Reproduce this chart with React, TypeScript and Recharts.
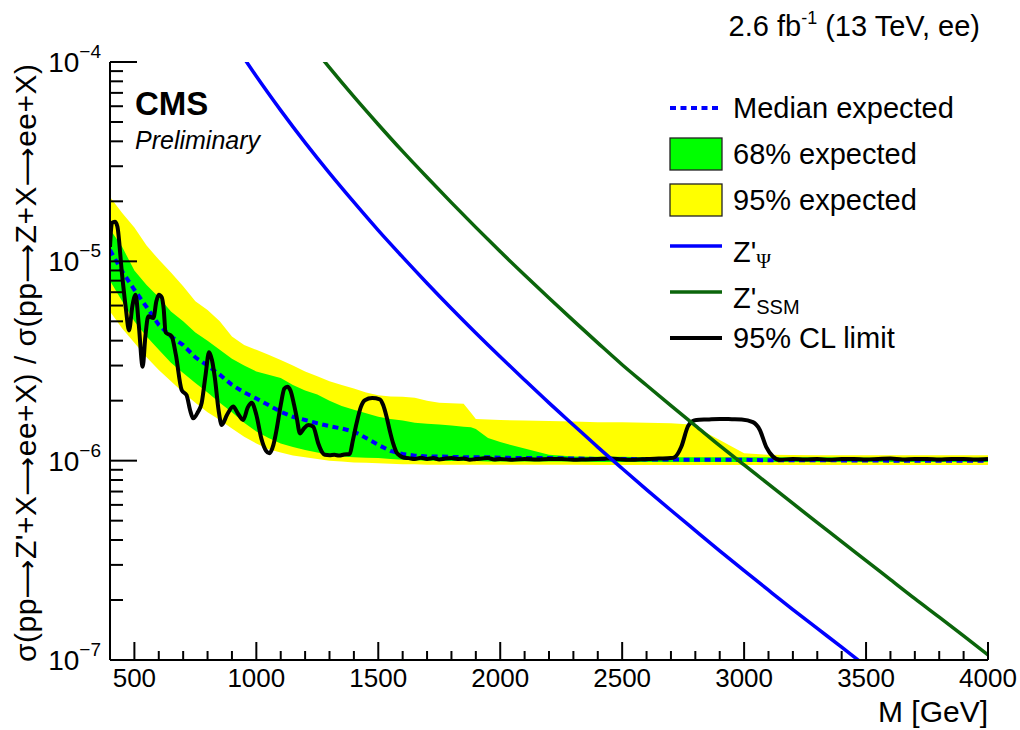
import React from "react";
import { Area, ComposedChart, Legend, Line, XAxis, YAxis } from "recharts";

const FONT = '"Liberation Sans", Arial, Helvetica, sans-serif';
const W = 1020;
const H = 730;

// expected limit bands (cross-section ratio)
const bandMass = [
  400, 450, 500, 550, 600, 650, 700, 750, 800, 850,
  900, 950, 1000, 1050, 1100, 1150, 1200, 1250, 1300, 1350,
  1400, 1450, 1500, 1550, 1600, 1650, 1700, 1750, 1800, 1850,
  1880, 1900, 1950, 2000, 2100, 2200, 2300, 2400, 2500, 2600,
  2700, 2780, 2900, 3000, 3100, 3300, 3600, 4000,
];
const band95Low = [
  5.6e-6, 4.6e-6, 3.9e-6, 3.3e-6, 2.85e-6, 2.5e-6, 2.2e-6, 1.95e-6, 1.75e-6, 1.6e-6,
  1.45e-6, 1.32e-6, 1.22e-6, 1.14e-6, 1.1e-6, 1.06e-6, 1.04e-6, 1.02e-6, 1.0e-6, 0.99e-6,
  0.98e-6, 0.975e-6, 0.97e-6, 0.965e-6, 0.96e-6, 0.96e-6, 0.955e-6, 0.955e-6, 0.955e-6, 0.955e-6,
  0.955e-6, 0.955e-6, 0.955e-6, 0.955e-6, 0.955e-6, 0.955e-6, 0.955e-6, 0.95e-6, 0.95e-6, 0.95e-6,
  0.95e-6, 0.95e-6, 0.95e-6, 0.95e-6, 0.95e-6, 0.95e-6, 0.95e-6, 0.95e-6,
];
const band68Low = [
  8.0e-6, 6.3e-6, 5.0e-6, 4.2e-6, 3.6e-6, 3.1e-6, 2.75e-6, 2.45e-6, 2.2e-6, 1.95e-6,
  1.75e-6, 1.55e-6, 1.4e-6, 1.3e-6, 1.22e-6, 1.17e-6, 1.13e-6, 1.1e-6, 1.07e-6, 1.05e-6,
  1.04e-6, 1.035e-6, 1.03e-6, 1.02e-6, 1.01e-6, 1.005e-6, 1.0e-6, 1.0e-6, 0.995e-6, 0.995e-6,
  0.995e-6, 0.995e-6, 0.99e-6, 0.99e-6, 0.99e-6, 0.99e-6, 0.99e-6, 0.985e-6, 0.985e-6, 0.985e-6,
  0.985e-6, 0.985e-6, 0.985e-6, 0.985e-6, 0.985e-6, 0.985e-6, 0.985e-6, 0.985e-6,
];
const medianExpected = [
  11.4e-6, 8.9e-6, 7.2e-6, 5.9e-6, 4.8e-6, 4.2e-6, 3.8e-6, 3.3e-6, 3.0e-6, 2.7e-6,
  2.4e-6, 2.2e-6, 2.05e-6, 1.9e-6, 1.76e-6, 1.66e-6, 1.6e-6, 1.54e-6, 1.49e-6, 1.45e-6,
  1.4e-6, 1.3e-6, 1.2e-6, 1.12e-6, 1.08e-6, 1.06e-6, 1.05e-6, 1.05e-6, 1.045e-6, 1.04e-6,
  1.04e-6, 1.04e-6, 1.04e-6, 1.035e-6, 1.03e-6, 1.03e-6, 1.025e-6, 1.02e-6, 1.02e-6, 1.015e-6,
  1.015e-6, 1.01e-6, 1.01e-6, 1.01e-6, 1.005e-6, 1.005e-6, 1.0e-6, 1.0e-6,
];
const band68High = [
  14.5e-6, 11.8e-6, 9.0e-6, 7.6e-6, 6.6e-6, 5.6e-6, 5.0e-6, 4.4e-6, 4.0e-6, 3.6e-6,
  3.25e-6, 3.0e-6, 2.8e-6, 2.7e-6, 2.6e-6, 2.4e-6, 2.25e-6, 2.15e-6, 2.0e-6, 1.88e-6,
  1.8e-6, 1.73e-6, 1.66e-6, 1.62e-6, 1.59e-6, 1.55e-6, 1.53e-6, 1.52e-6, 1.5e-6, 1.48e-6,
  1.47e-6, 1.44e-6, 1.3e-6, 1.24e-6, 1.15e-6, 1.07e-6, 1.05e-6, 1.045e-6, 1.045e-6, 1.04e-6,
  1.04e-6, 1.04e-6, 1.04e-6, 1.04e-6, 1.04e-6, 1.04e-6, 1.035e-6, 1.035e-6,
];
const band95High = [
  21.0e-6, 17.5e-6, 14.8e-6, 12.0e-6, 10.2e-6, 8.8e-6, 7.5e-6, 6.3e-6, 5.7e-6, 5.0e-6,
  4.2e-6, 3.8e-6, 3.6e-6, 3.4e-6, 3.2e-6, 3.0e-6, 2.8e-6, 2.65e-6, 2.5e-6, 2.4e-6,
  2.3e-6, 2.2e-6, 2.13e-6, 2.1e-6, 2.09e-6, 2.07e-6, 2.0e-6, 1.95e-6, 1.94e-6, 1.93e-6,
  1.74e-6, 1.62e-6, 1.61e-6, 1.6e-6, 1.59e-6, 1.58e-6, 1.57e-6, 1.56e-6, 1.56e-6, 1.55e-6,
  1.54e-6, 1.52e-6, 1.27e-6, 1.09e-6, 1.07e-6, 1.065e-6, 1.065e-6, 1.065e-6,
];

// observed 95% CL limit
const obsMass = [
  400, 408, 420, 430, 449, 465, 478, 492, 505, 518,
  534, 545, 557, 578, 590, 600, 612, 620, 628, 653,
  670, 694, 714, 728, 741, 760, 776, 792, 806, 818,
  830, 845, 858, 880, 905, 925, 946, 965, 981, 1000,
  1020, 1040, 1053, 1070, 1083, 1100, 1115, 1127, 1140, 1155,
  1165, 1179, 1195, 1213, 1233, 1254, 1270, 1281, 1300, 1320,
  1340, 1360, 1383, 1395, 1411, 1428, 1445, 1475, 1506, 1520,
  1534, 1548, 1561, 1575, 1588, 1600, 1625, 1650, 1675, 1700,
  1725, 1750, 1775, 1800, 1825, 1850, 1875, 1900, 1925, 1950,
  1975, 2000, 2050, 2100, 2150, 2200, 2250, 2300, 2350, 2400,
  2450, 2500, 2550, 2600, 2650, 2700, 2715, 2742, 2770, 2790,
  2804, 2850, 2900, 2950, 2990, 3036, 3064, 3091, 3118, 3146,
  3200, 3250, 3300, 3350, 3400, 3450, 3500, 3550, 3600, 3650,
  3700, 3750, 3800, 3850, 3900, 3950, 4000,
];
const obsLimit = [
  11.8e-6, 15.6e-6, 15.8e-6, 15.0e-6, 8.7e-6, 5.8e-6, 4.5e-6, 6.0e-6, 6.8e-6, 4.8e-6,
  2.96e-6, 4.2e-6, 5.3e-6, 5.2e-6, 6.3e-6, 6.8e-6, 6.6e-6, 5.8e-6, 4.4e-6, 4.2e-6,
  3.4e-6, 2.26e-6, 2.13e-6, 1.8e-6, 1.63e-6, 1.75e-6, 1.95e-6, 2.7e-6, 3.5e-6, 3.2e-6,
  2.6e-6, 1.8e-6, 1.51e-6, 1.7e-6, 1.87e-6, 1.72e-6, 1.6e-6, 1.85e-6, 1.95e-6, 1.7e-6,
  1.3e-6, 1.12e-6, 1.09e-6, 1.2e-6, 1.43e-6, 1.9e-6, 2.3e-6, 2.35e-6, 2.25e-6, 1.9e-6,
  1.66e-6, 1.37e-6, 1.45e-6, 1.51e-6, 1.48e-6, 1.22e-6, 1.1e-6, 1.07e-6, 1.065e-6, 1.07e-6,
  1.06e-6, 1.075e-6, 1.08e-6, 1.25e-6, 1.54e-6, 1.85e-6, 2.01e-6, 2.06e-6, 2.03e-6, 1.9e-6,
  1.66e-6, 1.4e-6, 1.22e-6, 1.1e-6, 1.06e-6, 1.04e-6, 1.03e-6, 1.02e-6, 1.035e-6, 1.02e-6,
  1.03e-6, 1.015e-6, 1.025e-6, 1.03e-6, 1.02e-6, 1.025e-6, 1.01e-6, 1.02e-6, 1.025e-6, 1.03e-6,
  1.015e-6, 1.02e-6, 1.01e-6, 1.02e-6, 1.015e-6, 1.02e-6, 1.02e-6, 1.01e-6, 1.015e-6, 1.02e-6,
  1.025e-6, 1.015e-6, 1.01e-6, 1.02e-6, 1.025e-6, 1.03e-6, 1.04e-6, 1.17e-6, 1.49e-6, 1.58e-6,
  1.6e-6, 1.61e-6, 1.62e-6, 1.615e-6, 1.61e-6, 1.56e-6, 1.43e-6, 1.17e-6, 1.05e-6, 1.01e-6,
  1.02e-6, 1.015e-6, 1.02e-6, 1.01e-6, 1.02e-6, 1.02e-6, 1.015e-6, 1.02e-6, 1.025e-6, 1.015e-6,
  1.02e-6, 1.02e-6, 1.015e-6, 1.02e-6, 1.02e-6, 1.015e-6, 1.02e-6,
];

// theory predictions
const psiMass = [900, 1000, 1100, 1200, 1300, 1400, 1500, 1600, 1700, 1800, 1900, 2000, 2100, 2200, 2300, 2400, 2500, 2600, 2700, 2800, 2900, 3000, 3100, 3200, 3300, 3400, 3500, 3600];
const psiXsec = [
  1.29e-4, 8.48e-5, 5.72e-5, 3.94e-5, 2.77e-5, 1.98e-5, 1.43e-5, 1.05e-5, 7.77e-6, 5.8e-6,
  4.37e-6, 3.32e-6, 2.54e-6, 1.95e-6, 1.51e-6, 1.17e-6, 9.14e-7, 7.16e-7, 5.64e-7, 4.46e-7,
  3.53e-7, 2.81e-7, 2.24e-7, 1.79e-7, 1.44e-7, 1.16e-7, 9.3e-8, 7.5e-8,
];
const ssmMass = [1200, 1300, 1400, 1500, 1600, 1700, 1800, 1900, 2000, 2100, 2200, 2300, 2400, 2500, 2600, 2700, 2800, 2900, 3000, 3100, 3200, 3300, 3400, 3500, 3600, 3700, 3800, 3900, 4000];
const ssmXsec = [
  1.33e-4, 9.37e-5, 6.7e-5, 4.86e-5, 3.56e-5, 2.64e-5, 1.97e-5, 1.48e-5, 1.12e-5, 8.54e-6,
  6.54e-6, 5.04e-6, 3.9e-6, 3.03e-6, 2.39e-6, 1.89e-6, 1.5e-6, 1.19e-6, 9.53e-7, 7.62e-7,
  6.1e-7, 4.89e-7, 3.93e-7, 3.15e-7, 2.53e-7, 2.03e-7, 1.64e-7, 1.32e-7, 1.06e-7,
];

// axes
const xMajorTicks = [500, 1000, 1500, 2000, 2500, 3000, 3500, 4000];
const xMinorTicks = [
  600, 700, 800, 900, 1100, 1200, 1300, 1400, 1600, 1700, 1800, 1900,
  2100, 2200, 2300, 2400, 2600, 2700, 2800, 2900, 3100, 3200, 3300, 3400,
  3600, 3700, 3800, 3900,
];
const yMajorTicks = [1e-7, 1e-6, 1e-5, 1e-4];
const yMajorExponents = ["\u22127", "\u22126", "\u22125", "\u22124"];
const yMinorTicks = [
  2e-7, 3e-7, 4e-7, 5e-7, 6e-7, 7e-7, 8e-7, 9e-7,
  2e-6, 3e-6, 4e-6, 5e-6, 6e-6, 7e-6, 8e-6, 9e-6,
  2e-5, 3e-5, 4e-5, 5e-5, 6e-5, 7e-5, 8e-5, 9e-5,
];
const xTicks = [...xMajorTicks, ...xMinorTicks].sort((a, b) => a - b);
const yTicks = [...yMajorTicks, ...yMinorTicks].sort((a, b) => a - b);

const bandData = bandMass.map((m, i) => ({
  m,
  band95: [band95Low[i], band95High[i]],
  band68: [band68Low[i], band68High[i]],
  median: medianExpected[i],
}));
const obsData = obsMass.map((m, i) => ({ m, limit: obsLimit[i] }));
const psiData = psiMass.map((m, i) => ({ m, xsec: psiXsec[i] }));
const ssmData = ssmMass.map((m, i) => ({ m, xsec: ssmXsec[i] }));

const C_BLUE = "#0000ff";
const C_DARKGREEN = "#0b650b";
const C_GREEN = "#00ff00";
const C_YELLOW = "#ffff00";

function BottomTick({ x, y, payload }: any) {
  const major = xMajorTicks.includes(payload.value);
  return (
    <g>
      <line x1={x} x2={x} y1={y} y2={y - (major ? 18 : 9)} stroke="#000" strokeWidth={2} />
      {major && (
        <text x={x} y={y + 27} textAnchor="middle" fontSize={26} fontFamily={FONT} fill="#000">
          {payload.value}
        </text>
      )}
    </g>
  );
}

function TopTick({ x, y, payload }: any) {
  const major = xMajorTicks.includes(payload.value);
  return <line x1={x} x2={x} y1={y} y2={y + (major ? 17 : 8)} stroke="#000" strokeWidth={2} />;
}

function LeftTick({ x, y, payload }: any) {
  const idx = yMajorTicks.indexOf(payload.value);
  const major = idx >= 0;
  return (
    <g>
      <line x1={x} x2={x + (major ? 27 : 13)} y1={y} y2={y} stroke="#000" strokeWidth={2} />
      {major && (
        <text x={x - 9} y={y + 10} textAnchor="end" fontSize={28} fontFamily={FONT} fill="#000">
          10
          <tspan fontSize={19} dy={-14}>{yMajorExponents[idx]}</tspan>
        </text>
      )}
    </g>
  );
}

function RightTick({ x, y, payload }: any) {
  const major = yMajorTicks.includes(payload.value);
  return <line x1={x} x2={x - (major ? 26 : 12)} y1={y} y2={y} stroke="#000" strokeWidth={2} />;
}

const legendItems = [
  { kind: "dash", color: C_BLUE, label: "Median expected" },
  { kind: "box", color: C_GREEN, label: "68% expected" },
  { kind: "box", color: C_YELLOW, label: "95% expected" },
  { kind: "line", color: C_BLUE, label: "Z'", sub: "\u03a8" },
  { kind: "line", color: C_DARKGREEN, label: "Z'", sub: "SSM" },
  { kind: "line", color: "#000", label: "95% CL limit" },
];

function LegendBox() {
  return (
    <svg width={330} height={280} style={{ display: "block", overflow: "visible" }} fontFamily={FONT}>
      {legendItems.map((it, i) => {
        const cy = 24 + i * 46;
        return (
          <g key={i}>
            {it.kind === "dash" && (
              <line x1={10} x2={62} y1={cy} y2={cy} stroke={it.color} strokeWidth={4} strokeDasharray="6 4.5" />
            )}
            {it.kind === "box" && (
              <rect x={10} y={cy - 16} width={52} height={32} fill={it.color} stroke="#222" strokeWidth={1.3} />
            )}
            {it.kind === "line" && (
              <line x1={10} x2={62} y1={cy} y2={cy} stroke={it.color} strokeWidth={it.color === "#000" ? 4 : 3.5} />
            )}
            {it.sub ? (
              <text x={73} y={cy + 16} fontSize={29} fill="#000">
                {it.label}
                <tspan fontSize={20} dy={6} fontFamily={it.sub === "\u03a8" ? '"Liberation Serif", serif' : FONT}>
                  {it.sub}
                </tspan>
              </text>
            ) : (
              <text x={73} y={cy + 10} fontSize={29} fill="#000">
                {it.label}
              </text>
            )}
          </g>
        );
      })}
    </svg>
  );
}

const ARROW_FONT = '"DejaVu Sans", sans-serif';

export default function App() {
  const axisLine = { stroke: "#000", strokeWidth: 2 };
  const arrow = (
    <tspan fontFamily={ARROW_FONT} fontSize={27}>
      {"\u27f6"}
    </tspan>
  );
  return (
    <div style={{ position: "absolute", left: 0, top: 0, width: W, height: H, background: "#fff" }}>
      <ComposedChart width={W} height={H} margin={{ top: 62, right: 32, bottom: 30, left: 50 }}>
        <Area
          xAxisId="bottom"
          yAxisId="left"
          data={bandData}
          dataKey="band95"
          type="linear"
          stroke="none"
          fill={C_YELLOW}
          fillOpacity={1}
          isAnimationActive={false}
        />
        <Area
          xAxisId="bottom"
          yAxisId="left"
          data={bandData}
          dataKey="band68"
          type="linear"
          stroke="none"
          fill={C_GREEN}
          fillOpacity={1}
          isAnimationActive={false}
        />
        <Line
          xAxisId="bottom"
          yAxisId="left"
          data={bandData}
          dataKey="median"
          type="linear"
          stroke={C_BLUE}
          strokeWidth={4}
          strokeDasharray="6 4.5"
          dot={false}
          isAnimationActive={false}
        />
        <Line
          xAxisId="bottom"
          yAxisId="left"
          data={obsData}
          dataKey="limit"
          type="monotone"
          stroke="#000"
          strokeWidth={4}
          dot={false}
          isAnimationActive={false}
        />
        <Line
          xAxisId="bottom"
          yAxisId="left"
          data={psiData}
          dataKey="xsec"
          type="monotone"
          stroke={C_BLUE}
          strokeWidth={3.5}
          dot={false}
          isAnimationActive={false}
        />
        <Line
          xAxisId="bottom"
          yAxisId="left"
          data={ssmData}
          dataKey="xsec"
          type="monotone"
          stroke={C_DARKGREEN}
          strokeWidth={3.5}
          dot={false}
          isAnimationActive={false}
        />
        <XAxis
          xAxisId="bottom"
          dataKey="m"
          type="number"
          domain={[400, 4000]}
          allowDataOverflow
          ticks={xTicks}
          interval={0}
          tickSize={0}
          tickMargin={0}
          tickLine={false}
          axisLine={axisLine}
          height={40}
          tick={(p: any) => <BottomTick {...p} />}
        />
        <XAxis
          xAxisId="top"
          orientation="top"
          dataKey="m"
          type="number"
          domain={[400, 4000]}
          allowDataOverflow
          ticks={xTicks}
          interval={0}
          tickSize={0}
          tickMargin={0}
          tickLine={false}
          axisLine={axisLine}
          height={0}
          tick={(p: any) => <TopTick {...p} />}
        />
        <YAxis
          yAxisId="left"
          type="number"
          scale="log"
          domain={[1e-7, 1e-4]}
          allowDataOverflow
          ticks={yTicks}
          interval={0}
          tickSize={0}
          tickMargin={0}
          tickLine={false}
          axisLine={axisLine}
          width={60}
          tick={(p: any) => <LeftTick {...p} />}
        />
        <YAxis
          yAxisId="right"
          orientation="right"
          type="number"
          scale="log"
          domain={[1e-7, 1e-4]}
          allowDataOverflow
          ticks={yTicks}
          interval={0}
          tickSize={0}
          tickMargin={0}
          tickLine={false}
          axisLine={axisLine}
          width={0}
          tick={(p: any) => <RightTick {...p} />}
        />
        <Legend
          layout="horizontal"
          verticalAlign="middle"
          align="center"
          wrapperStyle={{ left: 660, top: 84, width: 330 }}
          content={() => <LegendBox />}
        />
      </ComposedChart>
      <svg
        width={W}
        height={H}
        style={{ position: "absolute", left: 0, top: 0, pointerEvents: "none" }}
        fontFamily={FONT}
      >
        <text x={980} y={36} textAnchor="end" fontSize={29} fill="#000">
          2.6 fb
          <tspan fontSize={18} dy={-12}>-1</tspan>
          <tspan dy={12}> (13 TeV, ee)</tspan>
        </text>
        <text x={135} y={115} fontSize={33} fontWeight="bold" fill="#000">
          CMS
        </text>
        <text x={135} y={149} fontSize={25} fontStyle="italic" fill="#000">
          Preliminary
        </text>
        <text x={988} y={722} textAnchor="end" fontSize={30} fill="#000">
          M [GeV]
        </text>
        <text
          x={36}
          y={363}
          textAnchor="middle"
          fontSize={30}
          fill="#000"
          textLength={598}
          lengthAdjust="spacing"
          transform="rotate(-90 36 363)"
        >
          {"\u03c3(pp"}
          {arrow}
          {"Z'+X"}
          {arrow}
          {"ee+X) / \u03c3(pp"}
          {arrow}
          {"Z+X"}
          {arrow}
          {"ee+X)"}
        </text>
      </svg>
    </div>
  );
}
